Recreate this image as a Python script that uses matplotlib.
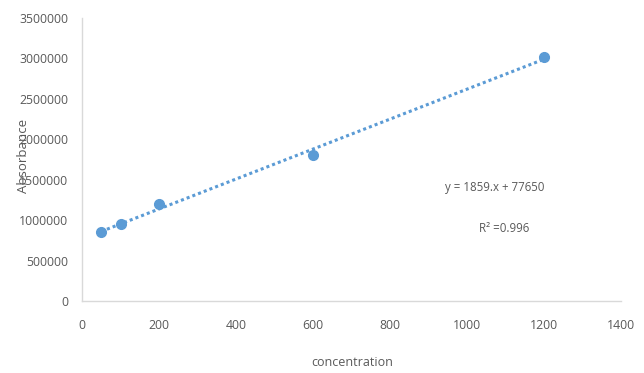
import numpy as np
import matplotlib
matplotlib.use("Agg")
import matplotlib.pyplot as plt

concentration = [50, 100, 200, 600, 1200]
absorbance = [850000, 950000, 1200000, 1800000, 3020000]
x_ticks = [0, 200, 400, 600, 800, 1000, 1200, 1400]
y_ticks = [0, 500000, 1000000, 1500000, 2000000, 2500000, 3000000, 3500000]
equation_text = "y = 1859.x + 77650"
r2_text = "R² =0.996"

plt.rcParams['font.family'] = ['Open Sans', 'DejaVu Sans']
txt = '#595959'
blue = '#5B9BD5'

fig = plt.figure(figsize=(6.44, 3.73), dpi=100)
ax = fig.add_axes([82/644, 1 - 301/373, (621-82)/644, (301-18)/373])

coef = np.polyfit(concentration, absorbance, 1)
xs = np.array([min(concentration), max(concentration)])
ax.plot(xs, np.polyval(coef, xs), linestyle=(0, (1, 1)), color=blue, linewidth=2.2, zorder=2)
ax.plot(concentration, absorbance, 'o', color=blue, markersize=7, zorder=3)

ax.set_xlim(0, 1400)
ax.set_ylim(0, 3500000)
ax.set_xticks(x_ticks)
ax.set_yticks(y_ticks)
ax.set_xticklabels([str(v) for v in x_ticks])
ax.set_yticklabels([str(v) for v in y_ticks])
ax.tick_params(length=0, colors=txt, labelsize=8.8, pad=10)
ax.tick_params(axis='x', pad=13)
for s in ['top', 'right']:
    ax.spines[s].set_visible(False)
for s in ['left', 'bottom']:
    ax.spines[s].set_color('#D9D9D9')
    ax.spines[s].set_linewidth(1)

fig.text(24/644, 1 - 156/373, "Absorbance", rotation=90, ha='center', va='center', color=txt, fontsize=9.5)
fig.text(352/644, 1 - 362/373, "concentration", ha='center', va='center', color=txt, fontsize=9)
fig.text(495/644, 1 - 188/373, equation_text, ha='center', va='center', color=txt, fontsize=8.3)
fig.text(504/644, 1 - 229/373, r2_text, ha='center', va='center', color=txt, fontsize=8.3)

fig.savefig("out.png", dpi=100)
